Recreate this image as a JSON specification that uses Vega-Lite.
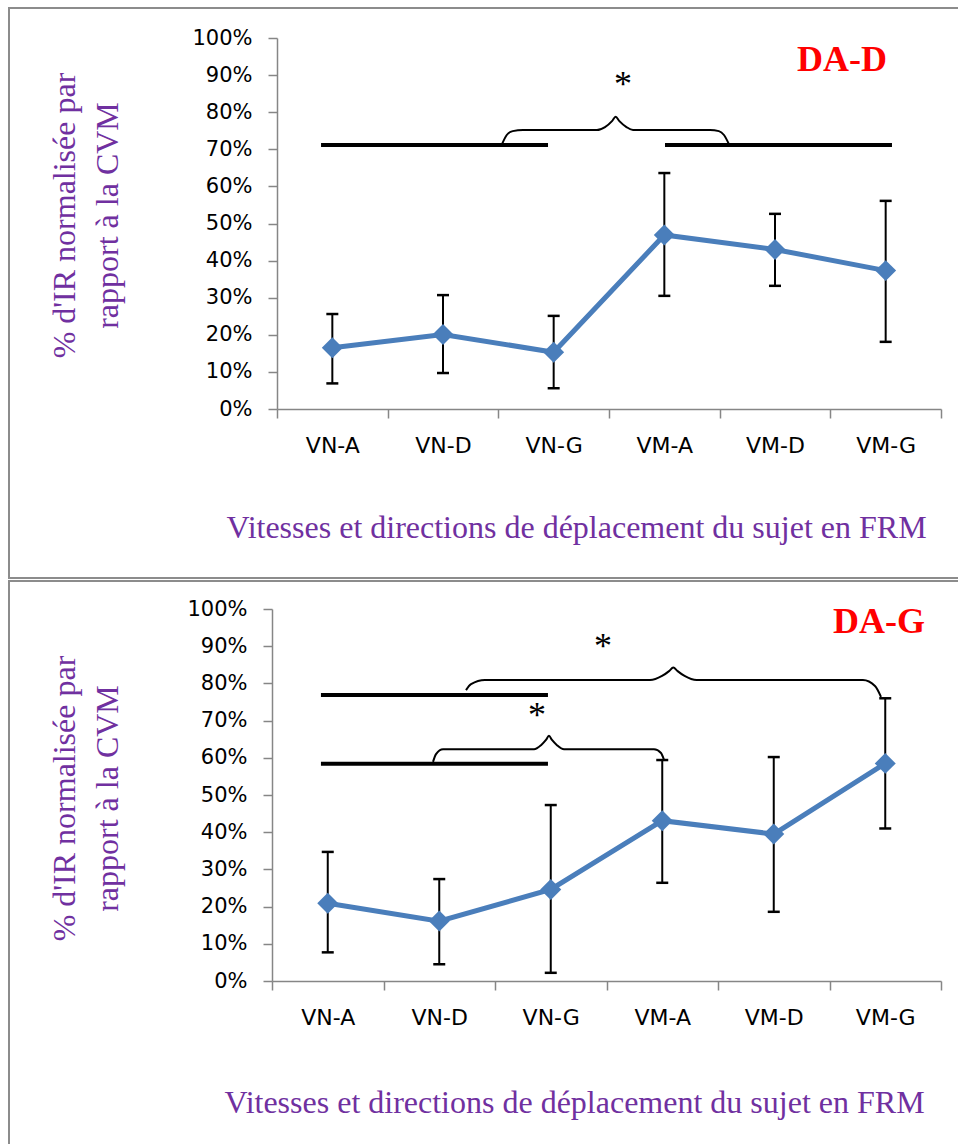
{
  "$schema": "https://vega.github.io/schema/vega-lite/v6.json",
  "padding": {"left": 8, "top": 7, "right": 0, "bottom": 0},
  "spacing": 1,
  "config": {
    "view": {"stroke": "#8c8c8c", "strokeWidth": 2},
    "axis": {"grid": false, "domainColor": "#868686", "tickColor": "#868686", "tickSize": 9, "domainWidth": 1.5, "tickWidth": 1.5, "labelColor": "#000000", "labelFont": "DejaVu Sans", "titleFont": "Liberation Serif", "titleFontSize": 32, "titleFontWeight": "normal", "titleColor": "#7030A0"},
    "axisY": {"labelFontSize": 21, "labelPadding": 16},
    "axisX": {"labelFontSize": 22, "labelPadding": 17, "labelAngle": 0}
  },
  "datasets": {
    "dad": [
      {"cond": "VN-A", "m": 0.165, "lo": 0.069, "hi": 0.256},
      {"cond": "VN-D", "m": 0.201, "lo": 0.097, "hi": 0.307},
      {"cond": "VN-G", "m": 0.153, "lo": 0.056, "hi": 0.251},
      {"cond": "VM-A", "m": 0.469, "lo": 0.305, "hi": 0.636},
      {"cond": "VM-D", "m": 0.430, "lo": 0.332, "hi": 0.526},
      {"cond": "VM-G", "m": 0.373, "lo": 0.181, "hi": 0.561}
    ],
    "dag": [
      {"cond": "VN-A", "m": 0.209, "lo": 0.077, "hi": 0.347},
      {"cond": "VN-D", "m": 0.161, "lo": 0.045, "hi": 0.274},
      {"cond": "VN-G", "m": 0.246, "lo": 0.022, "hi": 0.473},
      {"cond": "VM-A", "m": 0.431, "lo": 0.264, "hi": 0.594},
      {"cond": "VM-D", "m": 0.395, "lo": 0.186, "hi": 0.602},
      {"cond": "VM-G", "m": 0.585, "lo": 0.410, "hi": 0.760}
    ],
    "bars_d": [
      {"x": 0.398, "x2": 2.449, "y": 0.7116},
      {"x": 3.506, "x2": 5.557, "y": 0.7116}
    ],
    "bars_g": [
      {"x": 0.439, "x2": 2.475, "y": 0.769},
      {"x": 0.439, "x2": 2.475, "y": 0.584}
    ],
    "brace_d": [
      {"id": "a", "x": 2.030, "y": 0.7116},
      {"id": "a", "x": 2.076, "y": 0.7385},
      {"id": "a", "x": 2.130, "y": 0.749},
      {"id": "a", "x": 2.223, "y": 0.752},
      {"id": "a", "x": 2.891, "y": 0.752},
      {"id": "a", "x": 2.964, "y": 0.760},
      {"id": "a", "x": 3.027, "y": 0.776},
      {"id": "a", "x": 3.060, "y": 0.788},
      {"id": "a", "x": 3.094, "y": 0.776},
      {"id": "a", "x": 3.158, "y": 0.760},
      {"id": "a", "x": 3.217, "y": 0.752},
      {"id": "a", "x": 3.913, "y": 0.752},
      {"id": "a", "x": 3.993, "y": 0.749},
      {"id": "a", "x": 4.039, "y": 0.7385},
      {"id": "a", "x": 4.087, "y": 0.7116}
    ],
    "brace_g": [
      {"id": "a", "x": 1.740, "y": 0.782},
      {"id": "a", "x": 1.785, "y": 0.798},
      {"id": "a", "x": 1.910, "y": 0.809},
      {"id": "a", "x": 3.390, "y": 0.809},
      {"id": "a", "x": 3.498, "y": 0.820},
      {"id": "a", "x": 3.561, "y": 0.833},
      {"id": "a", "x": 3.599, "y": 0.843},
      {"id": "a", "x": 3.638, "y": 0.833},
      {"id": "a", "x": 3.700, "y": 0.820},
      {"id": "a", "x": 3.809, "y": 0.809},
      {"id": "a", "x": 5.300, "y": 0.809},
      {"id": "a", "x": 5.408, "y": 0.793},
      {"id": "a", "x": 5.462, "y": 0.764},
      {"id": "b", "x": 1.444, "y": 0.589},
      {"id": "b", "x": 1.471, "y": 0.610},
      {"id": "b", "x": 1.534, "y": 0.623},
      {"id": "b", "x": 2.350, "y": 0.623},
      {"id": "b", "x": 2.413, "y": 0.634},
      {"id": "b", "x": 2.457, "y": 0.648},
      {"id": "b", "x": 2.484, "y": 0.659},
      {"id": "b", "x": 2.511, "y": 0.648},
      {"id": "b", "x": 2.556, "y": 0.634},
      {"id": "b", "x": 2.619, "y": 0.623},
      {"id": "b", "x": 3.426, "y": 0.623},
      {"id": "b", "x": 3.489, "y": 0.613},
      {"id": "b", "x": 3.516, "y": 0.594}
    ],
    "stars_d": [{"x": 3.126, "y": 0.844, "t": "*"}],
    "stars_g": [
      {"x": 2.969, "y": 0.868, "t": "*"},
      {"x": 2.377, "y": 0.683, "t": "*"}
    ],
    "lab_d": [{"x": 5.105, "y": 0.911, "t": "DA-D"}],
    "lab_g": [{"x": 5.444, "y": 0.935, "t": "DA-G"}]
  },
  "vconcat": [
    {
      "width": 952,
      "height": 570,
      "resolve": {"scale": {"x": "independent"}, "axis": {"x": "independent", "y": "independent"}},
      "layer": [
        {
          "data": {"name": "dad"},
          "resolve": {"axis": {"y": "independent"}},
          "encoding": {
            "x": {
              "field": "cond", "type": "nominal",
              "sort": ["VN-A", "VN-D", "VN-G", "VM-A", "VM-D", "VM-G"],
              "scale": {"type": "band", "range": [268, 932], "paddingInner": 0, "paddingOuter": 0},
              "axis": {"tickBand": "extent", "offset": -169, "title": "Vitesses et directions de déplacement du sujet en FRM", "titleX": 567, "titleY": 128, "titleAlign": "center", "titleBaseline": "alphabetic"}
            }
          },
          "layer": [
            {
              "mark": {"type": "rule", "color": "#000000", "strokeWidth": 2},
              "encoding": {
                "y": {
                  "field": "lo", "type": "quantitative",
                  "scale": {"domain": [0, 1], "range": [401, 30], "nice": false, "zero": false},
                  "axis": {"values": [0, 0.1, 0.2, 0.3, 0.4, 0.5, 0.6, 0.7, 0.8, 0.9, 1], "format": ".0%", "offset": -268, "title": ["% d'IR normalisée par", "rapport à la CVM"], "titleAngle": 270, "titleX": -203, "titleY": 207, "titleAlign": "center", "titleBaseline": "alphabetic", "titleLineHeight": 43}
                },
                "y2": {"field": "hi"}
              }
            },
            {
              "mark": {"type": "tick", "color": "#000000", "thickness": 2.5, "size": 12, "opacity": 1},
              "encoding": {"y": {"field": "lo", "type": "quantitative", "scale": {"domain": [0, 1], "range": [401, 30], "nice": false, "zero": false}, "axis": null}}
            },
            {
              "mark": {"type": "tick", "color": "#000000", "thickness": 2.5, "size": 12, "opacity": 1},
              "encoding": {"y": {"field": "hi", "type": "quantitative", "scale": {"domain": [0, 1], "range": [401, 30], "nice": false, "zero": false}, "axis": null}}
            },
            {
              "mark": {"type": "line", "color": "#4A7EBB", "strokeWidth": 5},
              "encoding": {"y": {"field": "m", "type": "quantitative", "scale": {"domain": [0, 1], "range": [401, 30], "nice": false, "zero": false}, "axis": null}}
            },
            {
              "mark": {"type": "point", "shape": "diamond", "filled": true, "size": 440, "color": "#4A7EBB", "opacity": 1},
              "encoding": {"y": {"field": "m", "type": "quantitative", "scale": {"domain": [0, 1], "range": [401, 30], "nice": false, "zero": false}, "axis": null}}
            }
          ]
        },
        {
          "layer": [
            {
              "data": {"name": "bars_d"},
              "mark": {"type": "rule", "color": "#000000", "strokeWidth": 4},
              "encoding": {
                "x": {"field": "x", "type": "quantitative", "scale": {"domain": [0, 6], "range": [268, 932], "nice": false, "zero": false}, "axis": null},
                "x2": {"field": "x2"},
                "y": {"field": "y", "type": "quantitative", "scale": {"domain": [0, 1], "range": [401, 30], "nice": false, "zero": false}, "axis": null}
              }
            },
            {
              "data": {"name": "brace_d"},
              "mark": {"type": "line", "color": "#000000", "strokeWidth": 2, "interpolate": "monotone"},
              "encoding": {
                "x": {"field": "x", "type": "quantitative", "scale": {"domain": [0, 6], "range": [268, 932], "nice": false, "zero": false}, "axis": null},
                "y": {"field": "y", "type": "quantitative", "scale": {"domain": [0, 1], "range": [401, 30], "nice": false, "zero": false}, "axis": null},
                "detail": {"field": "id", "type": "nominal"}
              }
            },
            {
              "data": {"name": "stars_d"},
              "mark": {"type": "text", "font": "Liberation Serif", "fontSize": 36, "align": "center", "baseline": "alphabetic", "color": "#000000"},
              "encoding": {
                "x": {"field": "x", "type": "quantitative", "scale": {"domain": [0, 6], "range": [268, 932], "nice": false, "zero": false}, "axis": null},
                "y": {"field": "y", "type": "quantitative", "scale": {"domain": [0, 1], "range": [401, 30], "nice": false, "zero": false}, "axis": null},
                "text": {"field": "t"}
              }
            },
            {
              "data": {"name": "lab_d"},
              "mark": {"type": "text", "font": "Liberation Serif", "fontSize": 36, "fontWeight": "bold", "align": "center", "baseline": "alphabetic", "color": "#FF0000"},
              "encoding": {
                "x": {"field": "x", "type": "quantitative", "scale": {"domain": [0, 6], "range": [268, 932], "nice": false, "zero": false}, "axis": null},
                "y": {"field": "y", "type": "quantitative", "scale": {"domain": [0, 1], "range": [401, 30], "nice": false, "zero": false}, "axis": null},
                "text": {"field": "t"}
              }
            }
          ]
        }
      ]
    },
    {
      "width": 952,
      "height": 575,
      "resolve": {"scale": {"x": "independent"}, "axis": {"x": "independent", "y": "independent"}},
      "layer": [
        {
          "data": {"name": "dag"},
          "resolve": {"axis": {"y": "independent"}},
          "encoding": {
            "x": {
              "field": "cond", "type": "nominal",
              "sort": ["VN-A", "VN-D", "VN-G", "VM-A", "VM-D", "VM-G"],
              "scale": {"type": "band", "range": [263, 932], "paddingInner": 0, "paddingOuter": 0},
              "axis": {"tickBand": "extent", "offset": -175, "title": "Vitesses et directions de déplacement du sujet en FRM", "titleX": 565, "titleY": 131, "titleAlign": "center", "titleBaseline": "alphabetic"}
            }
          },
          "layer": [
            {
              "mark": {"type": "rule", "color": "#000000", "strokeWidth": 2},
              "encoding": {
                "y": {
                  "field": "lo", "type": "quantitative",
                  "scale": {"domain": [0, 1], "range": [400, 28], "nice": false, "zero": false},
                  "axis": {"values": [0, 0.1, 0.2, 0.3, 0.4, 0.5, 0.6, 0.7, 0.8, 0.9, 1], "format": ".0%", "offset": -263, "title": ["% d'IR normalisée par", "rapport à la CVM"], "titleAngle": 270, "titleX": -198, "titleY": 217, "titleAlign": "center", "titleBaseline": "alphabetic", "titleLineHeight": 43}
                },
                "y2": {"field": "hi"}
              }
            },
            {
              "mark": {"type": "tick", "color": "#000000", "thickness": 2.5, "size": 12, "opacity": 1},
              "encoding": {"y": {"field": "lo", "type": "quantitative", "scale": {"domain": [0, 1], "range": [400, 28], "nice": false, "zero": false}, "axis": null}}
            },
            {
              "mark": {"type": "tick", "color": "#000000", "thickness": 2.5, "size": 12, "opacity": 1},
              "encoding": {"y": {"field": "hi", "type": "quantitative", "scale": {"domain": [0, 1], "range": [400, 28], "nice": false, "zero": false}, "axis": null}}
            },
            {
              "mark": {"type": "line", "color": "#4A7EBB", "strokeWidth": 5},
              "encoding": {"y": {"field": "m", "type": "quantitative", "scale": {"domain": [0, 1], "range": [400, 28], "nice": false, "zero": false}, "axis": null}}
            },
            {
              "mark": {"type": "point", "shape": "diamond", "filled": true, "size": 440, "color": "#4A7EBB", "opacity": 1},
              "encoding": {"y": {"field": "m", "type": "quantitative", "scale": {"domain": [0, 1], "range": [400, 28], "nice": false, "zero": false}, "axis": null}}
            }
          ]
        },
        {
          "layer": [
            {
              "data": {"name": "bars_g"},
              "mark": {"type": "rule", "color": "#000000", "strokeWidth": 4},
              "encoding": {
                "x": {"field": "x", "type": "quantitative", "scale": {"domain": [0, 6], "range": [263, 932], "nice": false, "zero": false}, "axis": null},
                "x2": {"field": "x2"},
                "y": {"field": "y", "type": "quantitative", "scale": {"domain": [0, 1], "range": [400, 28], "nice": false, "zero": false}, "axis": null}
              }
            },
            {
              "data": {"name": "brace_g"},
              "mark": {"type": "line", "color": "#000000", "strokeWidth": 2, "interpolate": "monotone"},
              "encoding": {
                "x": {"field": "x", "type": "quantitative", "scale": {"domain": [0, 6], "range": [263, 932], "nice": false, "zero": false}, "axis": null},
                "y": {"field": "y", "type": "quantitative", "scale": {"domain": [0, 1], "range": [400, 28], "nice": false, "zero": false}, "axis": null},
                "detail": {"field": "id", "type": "nominal"}
              }
            },
            {
              "data": {"name": "stars_g"},
              "mark": {"type": "text", "font": "Liberation Serif", "fontSize": 36, "align": "center", "baseline": "alphabetic", "color": "#000000"},
              "encoding": {
                "x": {"field": "x", "type": "quantitative", "scale": {"domain": [0, 6], "range": [263, 932], "nice": false, "zero": false}, "axis": null},
                "y": {"field": "y", "type": "quantitative", "scale": {"domain": [0, 1], "range": [400, 28], "nice": false, "zero": false}, "axis": null},
                "text": {"field": "t"}
              }
            },
            {
              "data": {"name": "lab_g"},
              "mark": {"type": "text", "font": "Liberation Serif", "fontSize": 36, "fontWeight": "bold", "align": "center", "baseline": "alphabetic", "color": "#FF0000"},
              "encoding": {
                "x": {"field": "x", "type": "quantitative", "scale": {"domain": [0, 6], "range": [263, 932], "nice": false, "zero": false}, "axis": null},
                "y": {"field": "y", "type": "quantitative", "scale": {"domain": [0, 1], "range": [400, 28], "nice": false, "zero": false}, "axis": null},
                "text": {"field": "t"}
              }
            }
          ]
        }
      ]
    }
  ]
}
